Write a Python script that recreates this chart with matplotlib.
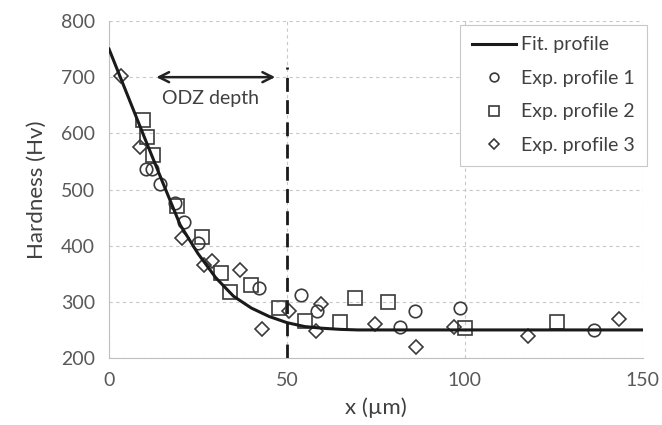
import matplotlib
matplotlib.use('Agg')
import matplotlib.pyplot as plt

plt.rcParams['font.family'] = ['Lato', 'DejaVu Sans']

# fitted profile
fit_x = [0, 5, 10, 15, 20, 25, 30, 35, 40, 45, 50, 55, 60, 65, 70, 100, 150]
fit_y = [750, 671, 592, 514, 437, 386, 343, 310, 289, 274, 263, 256, 253, 251, 250, 250, 250]

# experimental profiles
p1_x = [10.5, 12, 14.2, 18.6, 21, 25, 42.3, 54, 58.5, 81.8, 86, 98.8, 136.4]
p1_y = [536, 536, 510, 476, 442, 405, 325, 312, 284, 256, 284, 289, 250]

p2_x = [9.5, 10.6, 12.5, 19.1, 26.2, 31.4, 34, 40, 47.9, 55, 65, 69.2, 78.5, 100.2, 125.8]
p2_y = [624, 594, 562, 471, 416, 352, 318, 330, 289, 266, 265, 307, 300, 254, 265]

p3_x = [3.3, 8.6, 20.6, 26.7, 28.9, 36.7, 43.1, 50.6, 58.2, 59.6, 74.9, 86.2, 96.9, 117.7, 143.3]
p3_y = [702, 576, 414, 366, 373, 357, 252, 284, 248, 296, 261, 220, 256, 240, 270]

odz_depth = 50

fig = plt.figure(figsize=(6.62, 4.25), dpi=100)
ax = fig.add_axes([0.1647, 0.1576, 0.806, 0.793])

mk = dict(linestyle='none', markerfacecolor='none', markeredgecolor='#3a3a3a',
          markeredgewidth=1.2)
ax.plot(fit_x, fit_y, color='#1a1a1a', lw=2.2, label='Fit. profile', zorder=3)
ax.plot(p1_x, p1_y, marker='o', markersize=9, label='Exp. profile 1', **mk)
ax.plot(p2_x, p2_y, marker='s', markersize=9.5, label='Exp. profile 2', **mk)
ax.plot(p3_x, p3_y, marker='D', markersize=7, label='Exp. profile 3', **mk)

ax.plot([odz_depth, odz_depth], [200, 718], color='#1a1a1a', lw=2, ls=(0, (5, 3)))
ax.annotate('', xy=(12.5, 700), xytext=(47.5, 700),
            arrowprops=dict(arrowstyle='<->', color='#222222', lw=1.8,
                            mutation_scale=18))
ax.text(28.5, 662, 'ODZ depth', ha='center', va='center', fontsize=14,
        color='#404040')

ax.set_xlim(0, 150)
ax.set_ylim(200, 800)
ax.set_xticks([0, 50, 100, 150])
ax.set_yticks(range(200, 801, 100))
ax.grid(True, color='#c8c8c8', ls=(0, (3, 3)), lw=0.8)
ax.set_axisbelow(True)
for s in ['top', 'right']:
    ax.spines[s].set_visible(False)
for s in ['left', 'bottom']:
    ax.spines[s].set_color('#bfbfbf')
ax.tick_params(length=0, labelsize=14, labelcolor='#595959', pad=10)
ax.set_xlabel('x (\u00b5m)', fontsize=16, color='#404040', labelpad=6)
ax.set_ylabel('Hardness (Hv)', fontsize=16, color='#404040', labelpad=10)

leg = ax.legend(loc='upper right', bbox_to_anchor=(0.977, 0.942),
                bbox_transform=fig.transFigure, fontsize=14, frameon=True,
                fancybox=False, edgecolor='#c8c8c8', framealpha=1,
                handlelength=2.3, borderpad=0.6, labelspacing=0.85,
                handletextpad=0.25, markerscale=0.7, borderaxespad=0)
leg.get_frame().set_linewidth(0.8)
for t in leg.get_texts():
    t.set_color('#404040')

fig.savefig('out.png', dpi=100)
